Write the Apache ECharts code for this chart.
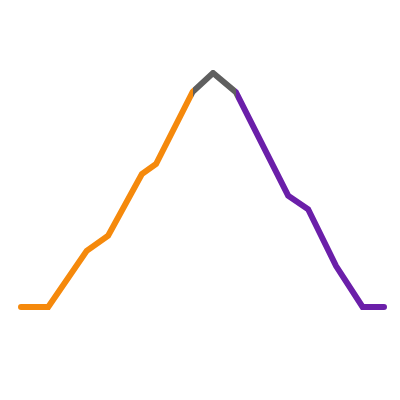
<!DOCTYPE html>
<html>
<head>
<meta charset="utf-8">
<script src="https://cdn.jsdelivr.net/npm/echarts@6/dist/echarts.min.js"></script>
<style>
  html, body { margin: 0; padding: 0; background: #fff; }
  #chart { width: 400px; height: 400px; }
</style>
</head>
<body>
<div id="chart"></div>
<script>
// values
const xValues = [0, 7.5, 18.1, 24.0, 33.3, 37.2, 47.3, 52.9, 59.2, 73.6, 79.1, 86.8, 94.1, 100]
const yValues = [0, 0, 24, 30.5, 56.8, 61.1, 92, 100, 91.8, 47.6, 41.8, 17.5, 0, 0]
const lowEnd = 47.3
const highStart = 59.2

const chart = echarts.init(document.getElementById('chart'))

const points = xValues.map((x, i) => [x, yValues[i]])

chart.setOption({
  animation: false,
  grid: { left: 21, right: 16, top: 73, bottom: 93 },
  xAxis: { type: 'value', min: 0, max: 100, show: false },
  yAxis: { type: 'value', min: 0, max: 100, show: false },
  visualMap: {
    show: false,
    type: 'piecewise',
    dimension: 0,
    pieces: [
      { lt: lowEnd, color: '#f5890c' },
      { gte: lowEnd, lte: highStart, color: '#5f5f5f' },
      { gt: highStart, color: '#6b1fa9' }
    ]
  },
  series: [{
    type: 'line',
    data: points,
    symbol: 'none',
    lineStyle: { width: 6, cap: 'round', join: 'miter' }
  }]
})
</script>
</body>
</html>
